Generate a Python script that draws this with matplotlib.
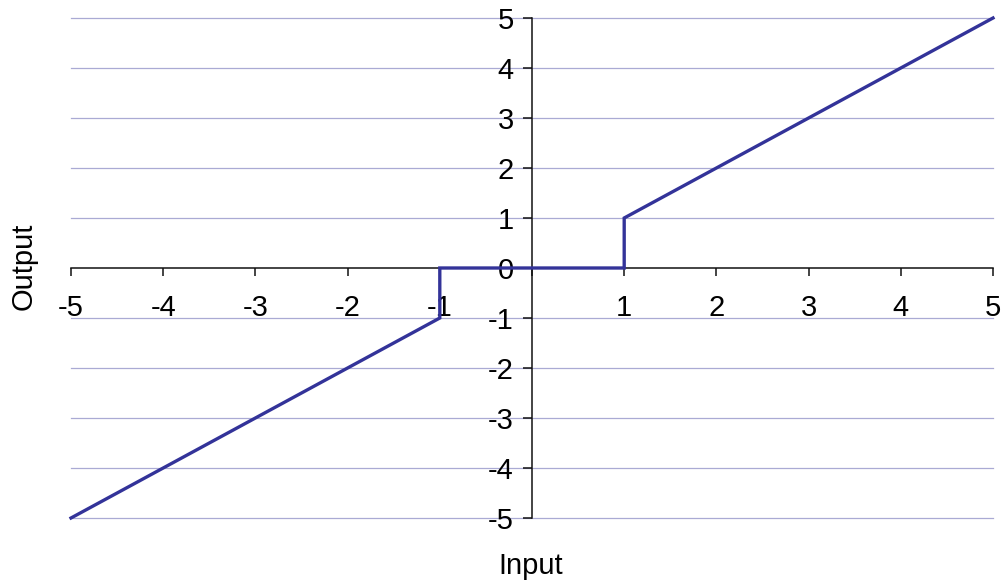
import matplotlib
matplotlib.use("Agg")
import matplotlib.pyplot as plt

# Data: hard-threshold function
x_vals = [-5, -1, -1, 1, 1, 5]
y_vals = [-5, -1, 0, 0, 1, 5]
x_ticks = [-5, -4, -3, -2, -1, 0, 1, 2, 3, 4, 5]
x_tick_labels = ["-5", "-4", "-3", "-2", "-1", "", "1", "2", "3", "4", "5"]
y_ticks = [-5, -4, -3, -2, -1, 0, 1, 2, 3, 4, 5]
y_tick_labels = ["-5", "-4", "-3", "-2", "-1", "0", "1", "2", "3", "4", "5"]

plt.rcParams['font.family'] = ['Liberation Sans', 'DejaVu Sans']
FS = 21

W, H = 1002, 588
fig = plt.figure(figsize=(W / 100, H / 100), dpi=100)
left, right = 71 / W, 993 / W
bottom, top = 1 - 518 / H, 1 - 18 / H
ax = fig.add_axes([left, bottom, right - left, top - bottom])

ax.set_xlim(-5, 5)
ax.set_ylim(-5, 5)

# horizontal gridlines
for yv in y_ticks:
    if yv != 0:
        ax.axhline(yv, color='#aaaad4', lw=0.9, zorder=0, clip_on=False)

ax.plot(x_vals, y_vals, color='#333399', lw=2.4, zorder=5, clip_on=False,
        solid_joinstyle='miter')

for s in ['top', 'right']:
    ax.spines[s].set_visible(False)
ax.spines['left'].set_position(('data', 0))
ax.spines['bottom'].set_position(('data', 0))
for s in ['left', 'bottom']:
    ax.spines[s].set_linewidth(1.1)
    ax.spines[s].set_color('#111111')
    ax.spines[s].set_zorder(3)

ax.set_xticks(x_ticks)
ax.set_xticklabels(x_tick_labels, fontsize=FS)
ax.set_yticks(y_ticks)
ax.set_yticklabels(y_tick_labels, fontsize=FS)
ax.tick_params(axis='x', direction='out', length=6, width=1.1, pad=12.5, color='#111111')
ax.tick_params(axis='y', direction='out', length=6.5, width=1.1, pad=6.5, color='#111111')

ax.patch.set_visible(False)

fig.text(531 / W, 1 - 574 / H, "Input", fontsize=FS, ha='center', va='baseline')
fig.text(32 / W, 1 - 266 / H, "Output", fontsize=FS, rotation=90,
         rotation_mode='anchor', ha='center', va='baseline')

fig.savefig("out.png", dpi=100, facecolor='white')
